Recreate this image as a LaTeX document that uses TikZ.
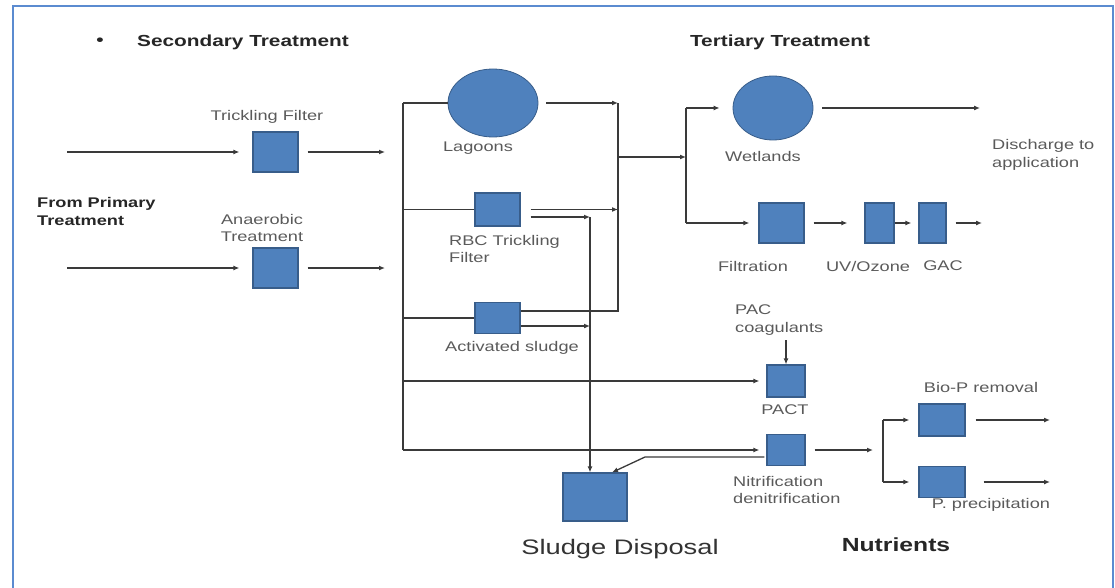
\documentclass[tikz,border=0pt]{standalone}
\usepackage{fontspec}
\setmainfont{Liberation Sans}[FakeStretch=1.3]
\usetikzlibrary{shapes.geometric,arrows.meta,calc}
\definecolor{boxblue}{HTML}{4F81BD}
\definecolor{boxedge}{HTML}{385D8A}
\definecolor{framecol}{HTML}{5B8BD0}
\definecolor{linecol}{HTML}{3A3A3A}
\definecolor{labcol}{HTML}{5A5A5A}
\tikzset{
	unit/.style={draw=boxedge,fill=boxblue,line width=1.2pt,inner sep=0pt},
	pond/.style={ellipse,draw=boxedge,fill=boxblue,line width=0.8pt,inner sep=0pt},
	flow/.style={draw=linecol,line width=1.3pt,-{Latex[length=6pt,width=5pt]}},
	pipe/.style={draw=linecol,line width=1.3pt},
	lab/.style={text=labcol,font=\fontsize{14}{17.5}\selectfont,align=center,inner sep=0pt},
	head/.style={text=black!85,font=\fontsize{16}{19}\selectfont\bfseries,inner sep=0pt}
}
\begin{document}
\begin{tikzpicture}[x=1pt,y=-1pt]
	\useasboundingbox (0,0) rectangle (1115,588);
	\draw[framecol,line width=2.5pt] (13,6) rectangle (1113,640);
	
	% headings
	\node[head] (dot) at (100,42) {•};
	\node[head,anchor=west] (sec) at (137,42) {Secondary Treatment};
	\node[head] (ter) at (780,42) {Tertiary Treatment};
	\node[head,font=\fontsize{14}{18}\selectfont\bfseries,align=left,anchor=west] (prim) at (37,211) {From Primary\\Treatment};
	\node[text=black!80,font=\fontsize{21}{24}\selectfont,inner sep=0pt] (sdlab) at (620,549) {Sludge Disposal};
	\node[head,font=\fontsize{19}{22}\selectfont\bfseries] (nut) at (896,545) {Nutrients};
	
	% secondary units
	\node[unit,minimum width=45pt,minimum height=40pt] (tf) at (275.5,152) {};
	\node[unit,minimum width=45pt,minimum height=40pt] (an) at (275.5,268) {};
	\node[lab] (tflab) at (267,117) {Trickling Filter};
	\node[lab] (anlab) at (262,228) {Anaerobic\\Treatment};
	
	\node[pond,minimum width=90pt,minimum height=68pt] (lag) at (493,103) {};
	\node[unit,minimum width=45pt,minimum height=33pt] (rbc) at (497.5,209.5) {};
	\node[unit,minimum width=45pt,minimum height=31pt] (act) at (497.5,318) {};
	\node[lab] (laglab) at (478,148) {Lagoons};
	\node[lab,align=left,anchor=west] (rbclab) at (449,249) {RBC Trickling\\Filter};
	\node[lab] (actlab) at (512,348) {Activated sludge};
	
	\node[unit,minimum width=64pt,minimum height=48pt] (sd) at (595,497) {};
	
	% tertiary units
	\node[pond,minimum width=80pt,minimum height=64pt] (wet) at (773,108) {};
	\node[unit,minimum width=45pt,minimum height=40pt] (fil) at (781.5,223) {};
	\node[unit,minimum width=29pt,minimum height=40pt] (uv) at (879.5,223) {};
	\node[unit,minimum width=27pt,minimum height=40pt] (gac) at (932.5,223) {};
	\node[lab] (wetlab) at (763,156) {Wetlands};
	\node[lab,align=left,anchor=west] (dislab) at (992,155) {Discharge to\\application};
	\node[lab] (fillab) at (753,266) {Filtration};
	\node[lab] (uvlab) at (868,266) {UV/Ozone};
	\node[lab] (gaclab) at (943,266) {GAC};
	
	% nutrient units
	\node[unit,minimum width=38pt,minimum height=32pt] (pact) at (786,381) {};
	\node[unit,minimum width=38pt,minimum height=31pt] (nit) at (786,450) {};
	\node[unit,minimum width=46pt,minimum height=32pt] (biop) at (942,420) {};
	\node[unit,minimum width=46pt,minimum height=31pt] (pprec) at (942,482) {};
	\node[lab,align=left,anchor=west] (pac) at (735,320) {PAC\\coagulants};
	\node[lab] (pactlab) at (785,410) {PACT};
	\node[lab,align=left,anchor=west] (nitlab) at (733,490) {Nitrification\\denitrification};
	\node[lab] (biolab) at (981,387) {Bio-P removal};
	\node[lab] (pplab) at (991,505) {P. precipitation};
	
	% junctions
	\coordinate (in1) at (67,152);
	\coordinate (in2) at (67,268);
	\coordinate (busT) at (403,103);
	\coordinate (busB) at (403,450);
	\coordinate (collT) at (618,103);
	\coordinate (collB) at (618,311);
	\coordinate (sl1) at (590,217);
	\coordinate (sl2) at (590,326);
	\coordinate (tsplitM) at (686,157);
	\coordinate (tsplitT) at (686,108);
	\coordinate (tsplitB) at (686,223);
	\coordinate (dis) at (980,108);
	\coordinate (gout) at (982,223);
	\coordinate (nk) at (645,457);
	\coordinate (nsplitT) at (883,420);
	\coordinate (nsplitB) at (883,482);
	\coordinate (bout) at (1050,420);
	\coordinate (pout) at (1050,482);
	
	% secondary flows
	\draw[flow,shorten >=13pt] (in1) -- (tf.west);
	\draw[flow,shorten >=13pt] (in2) -- (an.west);
	\draw[flow,shorten <=9pt,shorten >=18pt] (tf.east) -- (tf.east -| busT);
	\draw[flow,shorten <=9pt,shorten >=18pt] (an.east) -- (an.east -| busT);
	\draw[pipe] (busT) -- (busB);
	\draw[pipe] (busT) -- (lag.west);
	\draw[pipe] (busT |- rbc.west) -- (rbc.west);
	\draw[pipe] (busT |- act.west) -- (act.west);
	\draw[flow,shorten <=8pt] (lag.east) -- (collT);
	\draw[flow,shorten <=10pt] (rbc.east) -- (rbc.east -| collT);
	\draw[pipe] (act.east |- collB) -- (collB) -- (collT);
	\draw[flow,shorten <=10pt] (rbc.east |- sl1) -- (sl1);
	\draw[flow] (act.east |- sl2) -- (sl2);
	\draw[flow] (sl1) -- (sl1 |- sd.north);
	
	% tertiary flows
	\draw[flow] (collT |- tsplitM) -- (tsplitM);
	\draw[pipe] (tsplitT) -- (tsplitB);
	\draw[flow,shorten >=13pt] (tsplitT) -- (wet.west);
	\draw[flow,shorten >=9pt] (tsplitB) -- (fil.west);
	\draw[flow,shorten <=9pt] (wet.east) -- (dis);
	\draw[flow,shorten <=9pt,shorten >=17pt] (fil.east) -- (uv.west);
	\draw[flow,shorten >=7pt] (uv.east) -- (gac.west);
	\draw[flow,shorten <=9pt] (gac.east) -- (gout);
	
	% nutrient flows
	\draw[flow,shorten <=5pt] (pac.south -| pact.north) -- (pact.north);
	\draw[flow,shorten >=7pt] (busT |- pact.west) -- (pact.west);
	\draw[flow,shorten >=7pt] (busB) -- (nit.west);
	\draw[flow] ($(nit.west)+(-2,7)$) -- (nk) -- ($(sd.north)+(17,0)$);
	\draw[flow,shorten <=9pt,shorten >=10pt] (nit.east) -- (nit.east -| nsplitT);
	\draw[pipe] (nsplitT) -- (nsplitB);
	\draw[flow,shorten >=9pt] (nsplitT) -- (biop.west);
	\draw[flow,shorten >=9pt] (nsplitB) -- (pprec.west);
	\draw[flow,shorten <=10pt] (biop.east) -- (bout);
	\draw[flow,shorten <=18pt] (pprec.east) -- (pout);
\end{tikzpicture}
\end{document}
